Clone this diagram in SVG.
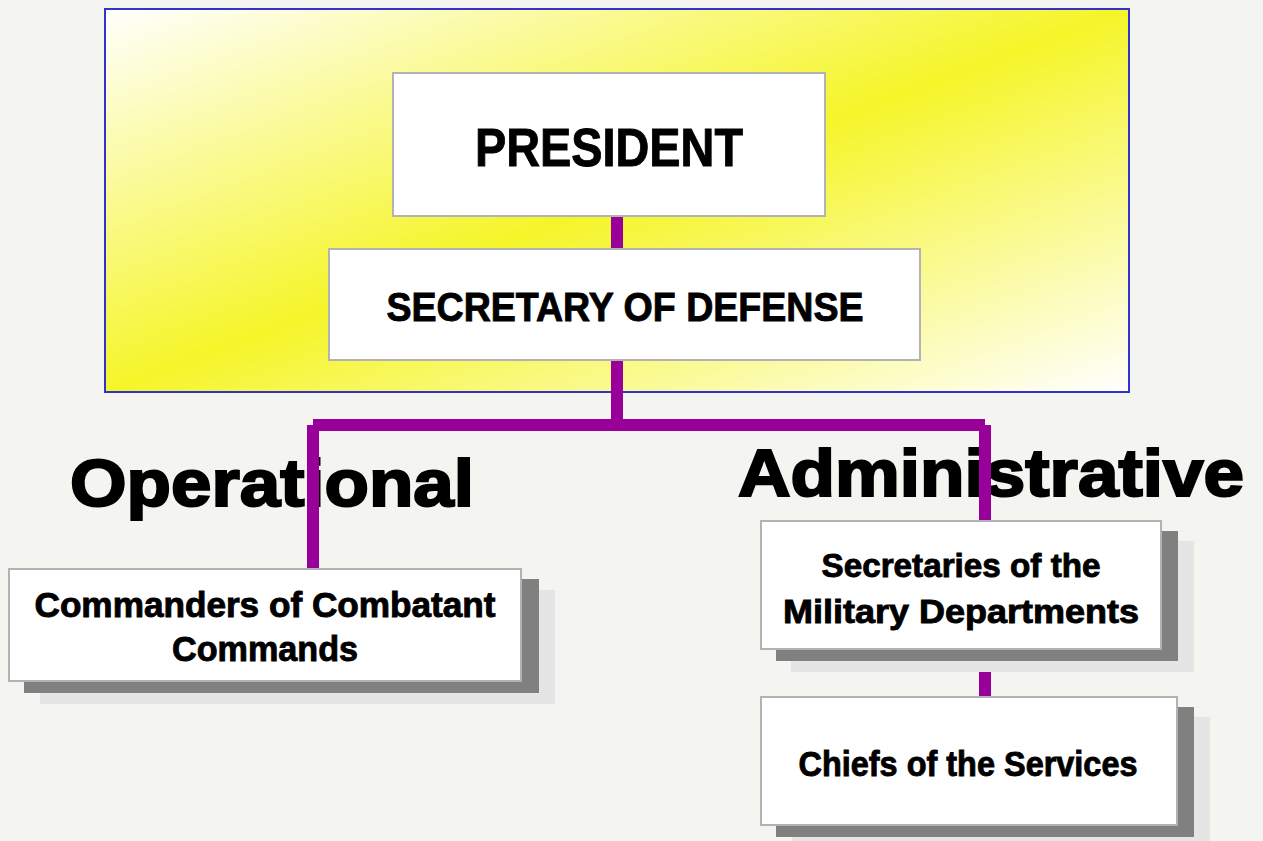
<svg xmlns="http://www.w3.org/2000/svg" width="1263" height="841" viewBox="0 0 1263 841">
<defs>
<linearGradient id="yg" x1="0" y1="0" x2="1" y2="1">
<stop offset="0" stop-color="#ffffff"/>
<stop offset="0.5" stop-color="#f5f52a"/>
<stop offset="1" stop-color="#ffffff"/>
</linearGradient>
</defs>
<style>
.box{fill:#ffffff;stroke:#b3b3b3;stroke-width:2}
.sh1{fill:#808080}
.sh2{fill:#e5e5e5}
.conn{stroke:#990099;stroke-width:12;fill:none}
.t{font-family:"Liberation Sans",Arial,sans-serif;font-weight:bold;fill:#000;stroke:#000;stroke-width:0.9;text-anchor:middle}
.big{font-family:"Liberation Sans",Arial,sans-serif;font-weight:bold;fill:#000;stroke:#000;stroke-width:2.2;font-size:67px}
</style>
<rect width="1263" height="841" fill="#f4f4f0"/>
<rect x="105" y="9" width="1024" height="383" fill="url(#yg)" stroke="#3333cc" stroke-width="2"/>
<g id="labels">
<text class="big" x="70" y="506" textLength="404" lengthAdjust="spacingAndGlyphs">Operational</text>
<text class="big" x="738" y="496" textLength="506" lengthAdjust="spacingAndGlyphs">Administrative</text>
</g>
<g id="connectors">
<line class="conn" x1="617" y1="216" x2="617" y2="249"/>
<line class="conn" x1="617" y1="360" x2="617" y2="425"/>
<line class="conn" x1="313" y1="425" x2="985" y2="425"/>
<line class="conn" x1="313" y1="425" x2="313" y2="569"/>
<line class="conn" x1="985" y1="425" x2="985" y2="521"/>
<line class="conn" x1="985" y1="649" x2="985" y2="697"/>
</g>
<g id="president">
<rect class="box" x="393" y="73" width="432" height="143"/>
<text class="t" x="609" y="166" font-size="53" textLength="268" lengthAdjust="spacingAndGlyphs">PRESIDENT</text>
</g>
<g id="secdef">
<rect class="box" x="329" y="249" width="591" height="111"/>
<text class="t" x="625" y="321" font-size="40" textLength="477" lengthAdjust="spacingAndGlyphs">SECRETARY OF DEFENSE</text>
</g>
<g id="commanders">
<rect class="sh2" x="40" y="590" width="515" height="114"/>
<rect class="sh1" x="24" y="579" width="515" height="114"/>
<rect class="box" x="9" y="569" width="512" height="112"/>
<text class="t" x="265" y="617" font-size="35" textLength="461" lengthAdjust="spacingAndGlyphs">Commanders of Combatant</text>
<text class="t" x="265" y="661" font-size="35" textLength="186" lengthAdjust="spacingAndGlyphs">Commands</text>
</g>
<g id="secretaries">
<rect class="sh2" x="791" y="541" width="403" height="131"/>
<rect class="sh1" x="776" y="531" width="402" height="130"/>
<rect class="box" x="761" y="521" width="400" height="128"/>
<text class="t" x="961" y="577" font-size="34" textLength="279" lengthAdjust="spacingAndGlyphs">Secretaries of the</text>
<text class="t" x="961" y="623" font-size="34" textLength="356" lengthAdjust="spacingAndGlyphs">Military Departments</text>
</g>
<g id="chiefs">
<rect class="sh2" x="792" y="717" width="418" height="130"/>
<rect class="sh1" x="776" y="707" width="418" height="130"/>
<rect class="box" x="761" y="697" width="416" height="128"/>
<text class="t" x="968" y="776" font-size="35" textLength="339" lengthAdjust="spacingAndGlyphs">Chiefs of the Services</text>
</g>
</svg>
